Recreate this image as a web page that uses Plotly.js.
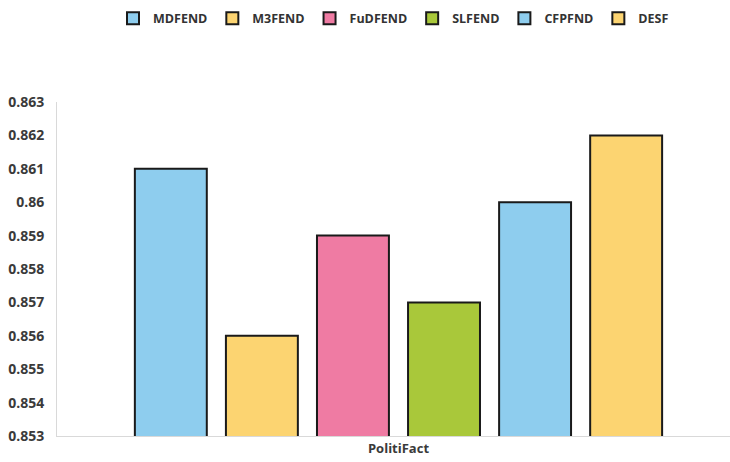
<!DOCTYPE html>
<html>
<head>
<meta charset="utf-8">
<script src="https://cdn.plot.ly/plotly-3.0.1.min.js"></script>
<style>html,body{margin:0;padding:0;background:#fff;}#chart{width:730px;height:462px;}</style>
</head>
<body>
<div id="chart"></div>
<script>
var categories = ["PolitiFact"];
var methods = ["MDFEND", "M3FEND", "FuDFEND", "SLFEND", "CFPFND", "DESF"];
var scores = [0.861, 0.856, 0.859, 0.857, 0.860, 0.862];
var colors = ["#8ECDEE", "#FCD471", "#EF7BA3", "#A9C83A", "#8ECDEE", "#FCD471"];
var yTicks = [0.853, 0.854, 0.855, 0.856, 0.857, 0.858, 0.859, 0.86, 0.861, 0.862, 0.863];

var traces = methods.map(function (m, i) {
  return {
    type: "bar",
    name: m,
    x: categories,
    y: [scores[i]],
    marker: { color: colors[i], line: { color: "#1a1a1a", width: 2 } },
    hoverinfo: "none"
  };
});

var font = { family: "Open Sans, DejaVu Sans, sans-serif", size: 14, color: "#3a3a3a", weight: 700 };

var layout = {
  width: 730,
  height: 462,
  margin: { l: 57, r: 0, t: 102, b: 26 },
  paper_bgcolor: "#fff",
  plot_bgcolor: "#fff",
  barmode: "group",
  bargap: 0.2,
  bargroupgap: 0.21,
  font: font,
  showlegend: true,
  legend: {
    orientation: "h",
    x: 0.5, xanchor: "center",
    y: 1.25, yanchor: "middle",
    font: { family: font.family, size: 12.5, color: "#333333", weight: 700 },
    itemwidth: 30,
    tracegroupgap: 0
  },
  xaxis: {
    type: "category",
    range: [-0.5, 0.4854],
    showline: true, linecolor: "#d9d9d9", linewidth: 1,
    showgrid: false, zeroline: false,
    ticks: "",
    tickfont: { family: font.family, size: 13, color: "#3a3a3a", weight: 700 }
  },
  yaxis: {
    range: [0.853, 0.863],
    tickvals: yTicks,
    ticktext: yTicks.map(String),
    showline: true, linecolor: "#d9d9d9", linewidth: 1, mirror: true,
    showgrid: false, zeroline: false,
    ticks: "",
    ticklabelstandoff: 9,
    tickfont: { family: font.family, size: 14, color: "#3a3a3a", weight: 700 }
  }
};

Plotly.newPlot("chart", traces, layout, { staticPlot: true, displayModeBar: false });
</script>
</body>
</html>
